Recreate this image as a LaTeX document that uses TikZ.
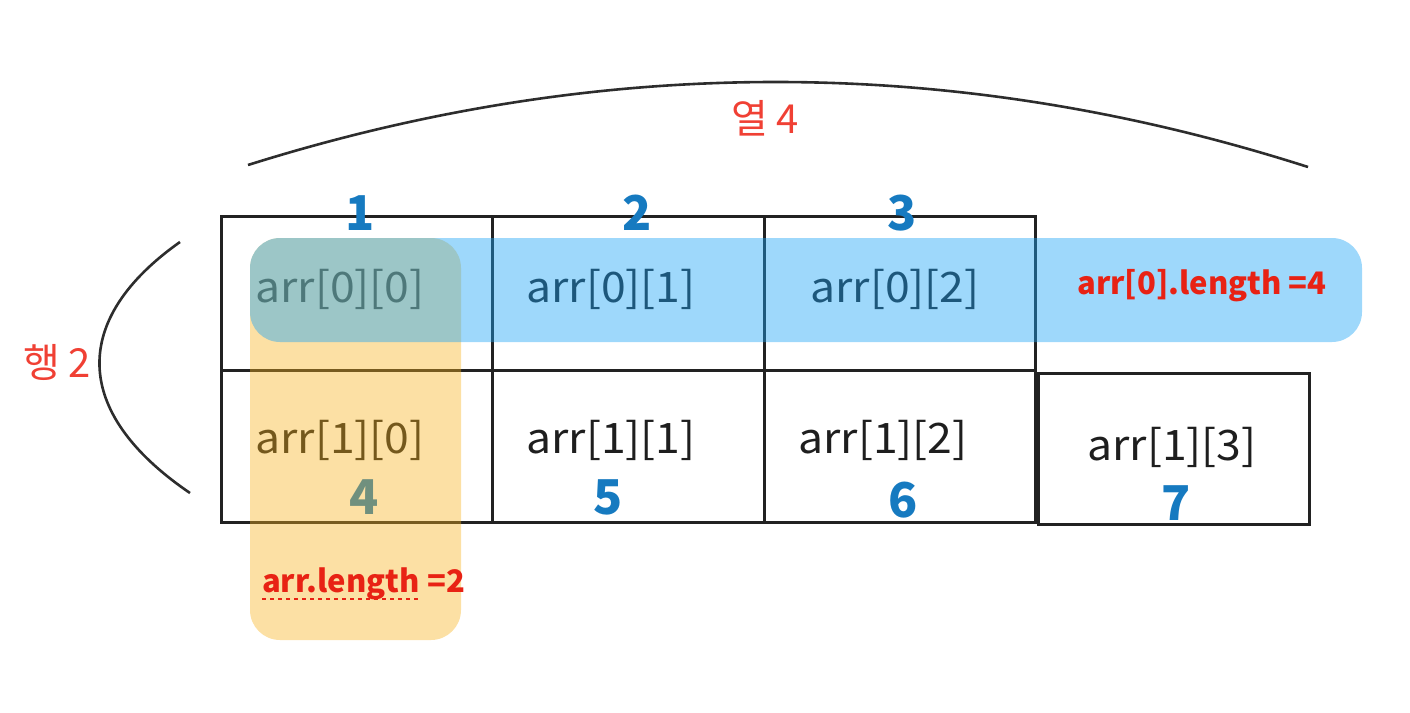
\documentclass[tikz,border=0pt]{standalone}
\usepackage{fontspec}
\setmainfont{Noto Sans CJK KR}
\newfontfamily\cellfont[FakeStretch=1.06]{Noto Sans CJK KR}
\definecolor{cellline}{RGB}{34,34,34}
\definecolor{celltext}{RGB}{30,30,30}
\definecolor{numblue}{RGB}{22,122,192}
\definecolor{lblred}{RGB}{232,34,20}
\definecolor{korred}{RGB}{240,64,52}
\definecolor{ovblue}{RGB}{29,164,246}
\definecolor{ovorange}{RGB}{247,177,27}
\definecolor{arcgray}{RGB}{45,45,45}
\tikzset{
  cellbox/.style={draw=cellline, line width=2.5pt, inner sep=0pt, anchor=north west},
  celltxt/.style={text=celltext, font=\cellfont\fontsize{42}{46}\selectfont, inner sep=0pt},
  numtxt/.style={text=numblue, font=\fontsize{48}{52}\selectfont\bfseries, inner sep=0pt},
  kortxt/.style={text=korred, font=\fontsize{40}{44}\selectfont, inner sep=0pt},
  lentxt/.style={text=lblred, font=\fontsize{31}{35}\selectfont\bfseries, inner sep=0pt},
  arcline/.style={draw=arcgray, line width=2.6pt},
}
\begin{document}
\begin{tikzpicture}[x=1pt,y=-1pt]
\useasboundingbox (0,0) rectangle (1410,712);
% cells
\node[cellbox, minimum width=271pt, minimum height=154pt] (c00) at (220,215) {};
\node[cellbox, minimum width=272pt, minimum height=154pt] (c01) at (491,215) {};
\node[cellbox, minimum width=271pt, minimum height=154pt] (c02) at (763,215) {};
\node[cellbox, minimum width=271pt, minimum height=152pt] (c10) at (220,369) {};
\node[cellbox, minimum width=272pt, minimum height=152pt] (c11) at (491,369) {};
\node[cellbox, minimum width=271pt, minimum height=152pt] (c12) at (763,369) {};
\node[cellbox, minimum width=271pt, minimum height=151pt] (c13) at (1037,372) {};
% cell texts
\node[celltxt] (t00) at (340,289) {arr[0][0]};
\node[celltxt] (t01) at (611,289) {arr[0][1]};
\node[celltxt] (t02) at (895,289) {arr[0][2]};
\node[celltxt] (t10) at (340,440) {arr[1][0]};
\node[celltxt] (t11) at (611,440) {arr[1][1]};
\node[celltxt] (t12) at (883,440) {arr[1][2]};
\node[celltxt] (t13) at (1172,447) {arr[1][3]};
% numbers
\node[numtxt] (n1) at (360,213) {1};
\node[numtxt] (n2) at (637,213) {2};
\node[numtxt] (n3) at (902,213) {3};
\node[numtxt] (n4) at (364,497) {4};
\node[numtxt] (n5) at (608,497) {5};
\node[numtxt] (n6) at (903,500) {6};
\node[numtxt] (n7) at (1176,503) {7};
% arcs
\draw[arcline] (248,165) .. controls (601,54) and (955,54) .. (1308,167);
\draw[arcline] (180,242) .. controls (71,319) and (71,412) .. (190,493);
\node[kortxt] (col) at (765,118) {열 4};
\node[kortxt] (row) at (57,362) {행 2};
% overlays
\fill[ovorange, fill opacity=0.4, rounded corners=30pt] (250,238) rectangle (461,640);
\fill[ovblue, fill opacity=0.43, rounded corners=30pt] (250,238) rectangle (1362,342);
% length labels
\node[lentxt] (rowlen) at (1202,286) {arr[0].length =4};
\node[lentxt, anchor=base west] (al1) at (262,592) {arr.length};
\node[lentxt, anchor=base west] (al2) at ([xshift=7pt]al1.base east) {=2};
\draw[lblred, line width=2.5pt, dash pattern=on 4pt off 4pt] ([yshift=-7pt]al1.base west) -- ([yshift=-7pt]al1.base east);
\end{tikzpicture}
\end{document}
